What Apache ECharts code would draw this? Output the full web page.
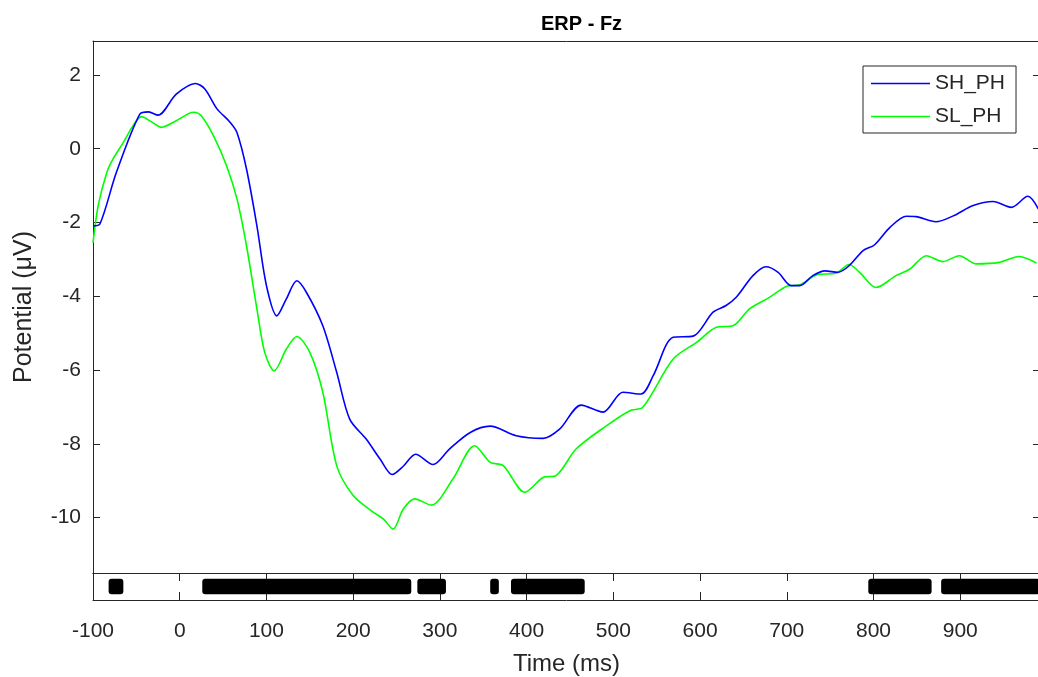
<!DOCTYPE html>
<html lang="en">
<head>
  <meta charset="UTF-8">
  <title>ERP - Fz</title>
  <script src="https://cdn.jsdelivr.net/npm/echarts@6/dist/echarts.min.js"></script>
  <style>
    html, body {
      margin: 0;
      padding: 0;
      overflow: hidden;
      background: #fff;
    }
    #main {
      width: 1045px;
      height: 677px;
    }
  </style>
</head>
<body>
  <div id="main"></div>
  <script>
    // SH_PH (blue)
    const shTime = [-100, -92, -73, -46, -36, -25, -4, 18, 29, 43, 58, 66, 77, 89, 100, 112, 123, 135, 146, 165, 181, 196, 215, 231, 245, 258, 272, 292, 311, 335, 358, 388, 419, 438, 463, 488, 511, 532, 546, 569, 592, 615, 630, 642, 661, 676, 690, 705, 715, 730, 744, 759, 772, 788, 801, 819, 838, 849, 872, 892, 915, 938, 959, 978, 990];
    const shValue = [-2.09, -2.04, -0.64, 0.94, 1.0, 0.91, 1.48, 1.77, 1.62, 1.08, 0.72, 0.44, -0.55, -2.09, -3.71, -4.53, -4.07, -3.58, -3.89, -4.8, -6.06, -7.33, -7.87, -8.41, -8.83, -8.6, -8.28, -8.56, -8.14, -7.69, -7.52, -7.78, -7.85, -7.6, -6.95, -7.14, -6.6, -6.65, -6.15, -5.11, -5.08, -4.43, -4.25, -4.02, -3.44, -3.2, -3.35, -3.71, -3.71, -3.44, -3.31, -3.35, -3.17, -2.76, -2.61, -2.13, -1.83, -1.84, -1.98, -1.82, -1.54, -1.43, -1.59, -1.29, -1.63];

    // SL_PH (green)
    const slTime = [-100, -94, -84, -77, -65, -54, -44, -32, -21, -4, 16, 25, 39, 54, 66, 77, 89, 98, 109, 123, 135, 150, 165, 181, 200, 223, 235, 246, 258, 271, 290, 315, 340, 358, 373, 398, 419, 434, 457, 492, 519, 534, 569, 596, 619, 638, 657, 680, 700, 715, 734, 757, 772, 784, 803, 826, 842, 861, 880, 899, 918, 945, 968, 988];
    const slValue = [-2.55, -1.54, -0.64, -0.28, 0.17, 0.62, 0.87, 0.72, 0.58, 0.76, 0.99, 0.89, 0.35, -0.46, -1.36, -2.63, -4.34, -5.52, -6.02, -5.43, -5.09, -5.52, -6.6, -8.59, -9.4, -9.85, -10.04, -10.31, -9.76, -9.49, -9.66, -8.95, -8.05, -8.5, -8.59, -9.31, -8.91, -8.86, -8.14, -7.51, -7.1, -7.01, -5.7, -5.25, -4.84, -4.8, -4.34, -4.03, -3.73, -3.69, -3.42, -3.37, -3.14, -3.35, -3.76, -3.44, -3.26, -2.9, -3.06, -2.9, -3.12, -3.08, -2.92, -3.1];

    // significant time windows (ms)
    const sigStart = [-82, 26, 274, 358, 382, 794, 878];
    const sigEnd = [-65, 267, 307, 368, 467, 867, 992];

    const yTicks = [-10, -8, -6, -4, -2, 0, 2];
    const xMin = -100, xMax = 992;

    const ink = '#262626';
    const font = 'Liberation Sans, Arial, sans-serif';

    const chart = echarts.init(document.getElementById('main'));

    const frameAxis = {
      axisLine: { show: true, onZero: false, lineStyle: { color: ink, width: 1 } },
      splitLine: { show: false }
    };

    const option = {
      animation: false,
      backgroundColor: '#fff',
      title: {
        text: 'ERP - Fz',
        left: 536,
        top: 9,
        textStyle: { fontFamily: font, fontSize: 20, fontWeight: 'bold', color: '#000' }
      },
      legend: {
        orient: 'vertical',
        left: 863,
        top: 66,
        padding: [7, 11, 6, 8],
        icon: 'rect',
        itemWidth: 59,
        itemHeight: 1.5,
        itemGap: 12,
        borderColor: ink,
        borderWidth: 1,
        backgroundColor: '#fff',
        textStyle: { fontFamily: font, fontSize: 21, color: ink, lineHeight: 21 },
        data: ['SH_PH', 'SL_PH']
      },
      grid: [
        { left: 93, right: 5, top: 41, height: 532 },
        { left: 93, right: 5, top: 573, height: 27 }
      ],
      xAxis: [
        Object.assign({ type: 'value', gridIndex: 0, position: 'bottom', min: xMin, max: xMax,
          axisTick: { show: false }, axisLabel: { show: false } }, frameAxis),
        Object.assign({ type: 'value', gridIndex: 0, position: 'top', min: xMin, max: xMax,
          axisTick: { show: false }, axisLabel: { show: false } }, frameAxis),
        Object.assign({ type: 'value', gridIndex: 1, position: 'bottom', min: xMin, max: xMax, interval: 100,
          name: 'Time (ms)', nameLocation: 'middle', nameGap: 52,
          nameTextStyle: { fontFamily: font, fontSize: 24, color: ink },
          axisTick: { inside: true, length: 8, lineStyle: { color: ink } },
          axisLabel: { margin: 21, fontFamily: font, fontSize: 21, color: ink, showMaxLabel: false } }, frameAxis),
        Object.assign({ type: 'value', gridIndex: 1, position: 'top', min: xMin, max: xMax, interval: 100,
          axisTick: { inside: true, length: 8, lineStyle: { color: ink } },
          axisLabel: { show: false } }, frameAxis)
      ],
      yAxis: [
        Object.assign({ type: 'value', gridIndex: 0, position: 'left', min: -11.5, max: 2.92,
          name: 'Potential (μV)', nameLocation: 'middle', nameGap: 56,
          nameTextStyle: { fontFamily: font, fontSize: 25, color: ink },
          axisTick: { inside: true, length: 7, customValues: yTicks, lineStyle: { color: ink } },
          axisLabel: { margin: 12, fontFamily: font, fontSize: 21, color: ink, customValues: yTicks } }, frameAxis),
        Object.assign({ type: 'value', gridIndex: 0, position: 'right', min: -11.5, max: 2.92,
          axisTick: { inside: true, length: 7, customValues: yTicks, lineStyle: { color: ink } },
          axisLabel: { show: false } }, frameAxis),
        Object.assign({ type: 'value', gridIndex: 1, position: 'left', min: 0, max: 1,
          axisTick: { show: false }, axisLabel: { show: false } }, frameAxis),
        Object.assign({ type: 'value', gridIndex: 1, position: 'right', min: 0, max: 1,
          axisTick: { show: false }, axisLabel: { show: false } }, frameAxis)
      ],
      series: [
        {
          name: 'SH_PH',
          type: 'line',
          xAxisIndex: 0,
          yAxisIndex: 0,
          data: shTime.map((t, i) => [t, shValue[i]]),
          symbol: 'none',
          smooth: 0.3,
          color: '#0000ff',
          lineStyle: { width: 1.6, color: '#0000ff' },
          z: 3
        },
        {
          name: 'SL_PH',
          type: 'line',
          xAxisIndex: 0,
          yAxisIndex: 0,
          data: slTime.map((t, i) => [t, slValue[i]]),
          symbol: 'none',
          smooth: 0.3,
          color: '#00ff00',
          lineStyle: { width: 1.6, color: '#00ff00' },
          z: 2
        },
        {
          type: 'custom',
          xAxisIndex: 2,
          yAxisIndex: 2,
          data: sigStart.map((s, i) => [s, sigEnd[i]]),
          renderItem: function (params, api) {
            const a = api.coord([api.value(0), 0.5]);
            const b = api.coord([api.value(1), 0.5]);
            const h = api.size([0, 1])[1] * 0.58;
            return {
              type: 'rect',
              shape: { x: a[0], y: a[1] - h / 2, width: b[0] - a[0], height: h, r: 3 },
              style: { fill: '#000' }
            };
          }
        }
      ]
    };

    chart.setOption(option);
  </script>
</body>
</html>
